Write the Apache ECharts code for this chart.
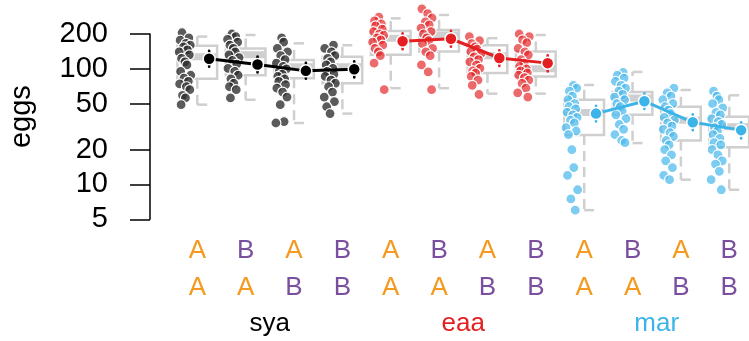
<!DOCTYPE html>
<html><head><meta charset="utf-8">
<script src="https://cdn.jsdelivr.net/npm/echarts@6/dist/echarts.min.js"></script>
<style>html,body{margin:0;padding:0;background:#fff}#c{width:749px;height:341px}</style>
</head><body><div id="c"></div>
<script>
// ---------- data ----------
const populations = ['sya', 'eaa', 'mar'];
const rowOneLabels = ['A','B','A','B','A','B','A','B','A','B','A','B'];
const rowTwoLabels = ['A','A','B','B','A','A','B','B','A','A','B','B'];
const yTicks = [5, 10, 20, 50, 100, 200];

// group means (per population, order AA, BA, AB, BB)
const meanSya = [122, 109, 96, 99];
const meanEaa = [173, 182, 124, 112];
const meanMar = [41, 52.5, 34.5, 29.5];
// standard-error bar ends
const seLowSya = [104, 93, 82, 84];
const seHighSya = [143, 128, 113, 116];
const seLowEaa = [148, 155, 106, 95];
const seHighEaa = [203, 213, 145, 131];
const seLowMar = [35, 45, 29.5, 25];
const seHighMar = [48, 61.5, 40.5, 34.5];

// boxplot stats per group: [lower whisker, Q1, median, Q3, upper whisker]
const boxStats = [
  [49, 82, 127, 158, 190],
  [54, 88, 132, 150, 196],
  [34, 83, 104, 119, 166],
  [41, 75, 104, 127, 160],
  [68, 132, 184, 212, 273],
  [68, 141, 196, 217, 292],
  [61, 92, 130, 160, 184],
  [61, 86, 100, 141, 196],
  [6.0, 26.8, 42, 54, 72.5],
  [22.8, 40, 56, 63, 94],
  [11, 24, 36, 47, 65.6],
  [9, 21, 31.5, 38.6, 59]
];

// individual observations per group
const obsSyaAA = [205, 185, 177, 166, 160, 155, 146, 140, 132, 123, 115, 108, 95, 88, 83, 78, 74, 70, 66, 59, 56, 49];
const obsSyaBA = [200, 190, 180, 170, 160, 150, 140, 132, 125, 118, 110, 101, 95, 88, 82, 75, 70, 66, 56];
const obsSyaAB = [185, 170, 150, 140, 130, 120, 112, 105, 100, 95, 90, 86, 82, 78, 73, 68, 63, 57, 49, 35, 34];
const obsSyaBB = [160, 150, 140, 130, 123, 115, 108, 101, 95, 90, 86, 80, 75, 70, 63, 57, 52, 47, 41];
const obsEaaAA = [280, 260, 245, 235, 220, 210, 200, 195, 185, 178, 170, 160, 150, 140, 130, 112, 66];
const obsEaaBA = [330, 300, 275, 255, 240, 225, 210, 200, 185, 175, 165, 150, 140, 130, 108, 94, 66];
const obsEaaAB = [190, 175, 165, 155, 148, 141, 135, 127, 120, 115, 108, 101, 96, 92, 86, 80, 72, 60];
const obsEaaBB = [200, 190, 178, 168, 150, 140, 132, 120, 112, 105, 100, 96, 92, 88, 84, 80, 75, 68, 62, 57];
const obsMarAA = [72, 68, 64, 58, 54, 50, 47, 45, 42, 40, 38, 36, 34, 31, 29, 27, 20, 14, 12, 9, 7.5, 6];
const obsMarBA = [93, 88, 83, 78, 72, 68, 64, 60, 57, 54, 50, 47, 43, 40, 37, 33, 30, 27, 24, 23];
const obsMarAB = [68, 62, 58, 54, 50, 47, 44, 41, 38, 36, 34, 32, 30, 28, 26, 24, 22, 20, 18, 16, 14, 12, 11];
const obsMarBB = [64, 58, 54, 50, 46, 42, 40, 37, 35, 33, 31, 29, 27, 25, 23, 22, 20, 18, 16, 15, 13, 11, 9];

// ---------- styling ----------
const popColors = ['#000000', '#e41f21', '#3db4e7'];
const pointColors = ['rgba(45,45,45,0.78)', 'rgba(228,35,38,0.68)', 'rgba(75,185,235,0.72)'];
const letterColors = { A: '#f39a1f', B: '#7a4f9f' };
const boxColor = '#cfcfcf';
const FONT = 'Liberation Sans, Arial, Helvetica, sans-serif';

const obsByGroup = [obsSyaAA, obsSyaBA, obsSyaAB, obsSyaBB, obsEaaAA, obsEaaBA, obsEaaAB, obsEaaBB, obsMarAA, obsMarBA, obsMarAB, obsMarBB];
const means = [meanSya, meanEaa, meanMar];
const seLows = [seLowSya, seLowEaa, seLowMar];
const seHighs = [seHighSya, seHighEaa, seHighMar];

const jitterPattern = [-0.06, 0.08, -0.1, 0.02, 0.11, -0.03, 0.05, -0.12, 0.09, -0.07, 0.0, 0.04, -0.09, 0.12, -0.02, 0.07, -0.11, 0.03, 0.1, -0.05, 0.01, -0.08, 0.06];
const pointShift = -0.255;
const meanShift = 0.245;
const xMin = -0.978, xMax = 11.408;

const series = [];

// boxplots
series.push({
  type: 'custom',
  clip: false,
  silent: true,
  z: 1,
  data: boxStats.map((s, i) => [i].concat(s)),
  renderItem: function (params, api) {
    const x = api.value(0);
    const low = api.coord([x, api.value(1)]);
    const q1 = api.coord([x, api.value(2)]);
    const med = api.coord([x, api.value(3)]);
    const q3 = api.coord([x, api.value(4)]);
    const up = api.coord([x, api.value(5)]);
    const cx = low[0];
    const hw = api.coord([x + 0.41, api.value(3)])[0] - cx;
    const st = { stroke: boxColor, lineWidth: 2.5, fill: null };
    const dash = { stroke: boxColor, lineWidth: 2.5, lineDash: [10, 6], fill: null };
    return {
      type: 'group',
      children: [
        { type: 'rect', shape: { x: cx - hw, y: q3[1], width: 2 * hw, height: q1[1] - q3[1] }, style: st },
        { type: 'line', shape: { x1: cx - hw, y1: med[1], x2: cx + hw, y2: med[1] }, style: { stroke: boxColor, lineWidth: 7 } },
        { type: 'line', shape: { x1: cx, y1: q3[1], x2: cx, y2: up[1] }, style: dash },
        { type: 'line', shape: { x1: cx, y1: q1[1], x2: cx, y2: low[1] }, style: dash },
        { type: 'line', shape: { x1: cx, y1: up[1], x2: cx + hw / 2, y2: up[1] }, style: st },
        { type: 'line', shape: { x1: cx, y1: low[1], x2: cx + hw / 2, y2: low[1] }, style: st }
      ]
    };
  }
});

// raw points
populations.forEach((pop, p) => {
  const data = [];
  for (let g = 0; g < 4; g++) {
    const gi = p * 4 + g;
    obsByGroup[gi].forEach((v, k) => {
      data.push([gi + pointShift + jitterPattern[(k + gi * 5) % jitterPattern.length], v]);
    });
  }
  series.push({
    type: 'scatter', name: pop + ' points', clip: false, z: 2, silent: true,
    symbol: 'circle', symbolSize: 10,
    itemStyle: { color: pointColors[p], borderColor: '#ffffff', borderWidth: 1.2, opacity: 1 },
    data: data
  });
});

// error bars + mean lines
populations.forEach((pop, p) => {
  const ebData = means[p].map((m, g) => [p * 4 + g + meanShift, seLows[p][g], seHighs[p][g]]);
  series.push({
    type: 'custom', clip: false, z: 3, silent: true,
    data: ebData,
    renderItem: function (params, api) {
      const x = api.value(0);
      const a = api.coord([x, api.value(1)]);
      const b = api.coord([x, api.value(2)]);
      return { type: 'line', shape: { x1: a[0], y1: a[1], x2: b[0], y2: b[1] },
        style: { stroke: popColors[p], lineWidth: 2.5, lineCap: 'round' } };
    }
  });
  series.push({
    type: 'line', name: pop, clip: false, z: 4, silent: true,
    symbol: 'circle', symbolSize: 12, showSymbol: true,
    lineStyle: { color: popColors[p], width: 3 },
    itemStyle: { color: popColors[p], borderColor: '#ffffff', borderWidth: 1.5 },
    data: means[p].map((m, g) => [p * 4 + g + meanShift, m])
  });
});

const groupIdx = rowOneLabels.map((_, i) => i);
const popCenters = populations.map((_, p) => p * 4 + 1.5);
const popRich = {};
populations.forEach((pop, p) => { popRich[pop] = { color: popColors[p], fontSize: 26, fontFamily: FONT, lineHeight: 26 }; });

const chart = echarts.init(document.getElementById('c'), null, { renderer: 'canvas' });
chart.setOption({
  animation: false,
  backgroundColor: '#ffffff',
  grid: { left: 150, right: 0, top: 34, bottom: 121.7, containLabel: false, outerBoundsMode: 'none' },
  xAxis: [
    {
      type: 'value', min: xMin, max: xMax, position: 'bottom',
      axisLine: { show: false }, axisTick: { show: false }, splitLine: { show: false },
      axisLabel: {
        customValues: groupIdx, margin: 12.6, verticalAlign: 'top',
        formatter: function (v) {
          const i = Math.round(v);
          return '{' + rowOneLabels[i] + '|' + rowOneLabels[i] + '}\n{' + rowTwoLabels[i] + '|' + rowTwoLabels[i] + '}';
        },
        rich: {
          A: { color: letterColors.A, fontSize: 26, fontFamily: FONT, lineHeight: 37.6 },
          B: { color: letterColors.B, fontSize: 26, fontFamily: FONT, lineHeight: 37.6 }
        }
      }
    },
    {
      type: 'value', min: xMin, max: xMax, position: 'bottom',
      axisLine: { show: false }, axisTick: { show: false }, splitLine: { show: false },
      axisLabel: {
        customValues: popCenters, margin: 92, verticalAlign: 'top',
        formatter: function (v) {
          const p = Math.round((v - 1.5) / 4);
          return '{' + populations[p] + '|' + populations[p] + '}';
        },
        rich: popRich
      }
    }
  ],
  yAxis: {
    type: 'log', logBase: 10, min: 5, max: 200,
    name: 'eggs', nameLocation: 'middle', nameRotate: 90, nameGap: 114,
    nameTextStyle: { fontSize: 29, color: '#000', fontFamily: FONT, padding: [0, 0, 0, 20] },
    axisLine: { show: true, onZero: false, lineStyle: { color: '#000', width: 1.5 } },
    axisTick: { show: true, length: 20, customValues: yTicks, lineStyle: { color: '#000', width: 1.5 } },
    axisLabel: { customValues: yTicks, margin: 42, fontSize: 29, color: '#000', fontFamily: FONT },
    splitLine: { show: false }, minorTick: { show: false }
  },
  series: series
});
</script>
</body></html>
